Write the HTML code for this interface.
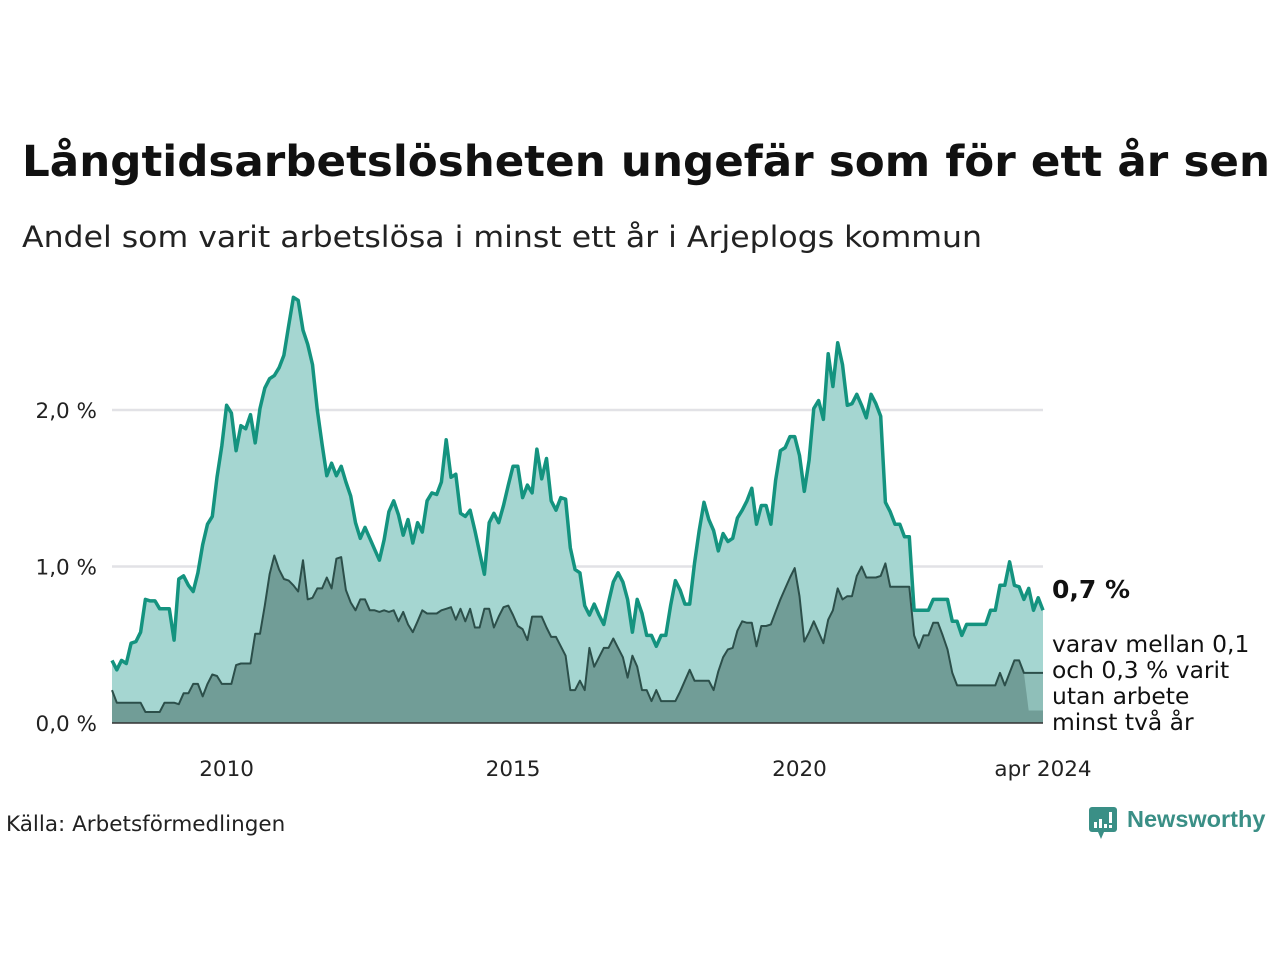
<!DOCTYPE html>
<html><head><meta charset="utf-8"><style>
body{margin:0;background:#fff;width:1280px;height:960px;overflow:hidden;font-family:"DejaVu Sans","Liberation Sans",sans-serif;}
svg{display:block}
</style></head><body>
<svg id="chart" width="1280" height="960" xmlns="http://www.w3.org/2000/svg">
<text x="22" y="176" font-family="DejaVu Sans, Liberation Sans, sans-serif" font-weight="bold" font-size="43" fill="#111" textLength="1248" lengthAdjust="spacingAndGlyphs">Långtidsarbetslösheten ungefär som för ett år sen</text>
<text x="22" y="247" font-size="29" fill="#222" textLength="960" lengthAdjust="spacingAndGlyphs">Andel som varit arbetslösa i minst ett år i Arjeplogs kommun</text>
<g id="grid"></g><g id="marks"></g><g id="axes"></g>
<text x="1052" y="598" font-size="25" font-weight="bold" fill="#111">0,7 %</text>
<g font-size="23.4" fill="#111">
<text x="1052" y="652">varav mellan 0,1</text>
<text x="1052" y="678">och 0,3 % varit</text>
<text x="1052" y="704">utan arbete</text>
<text x="1052" y="730">minst två år</text>
</g>
<text x="6" y="831" font-size="21.5" fill="#222">Källa: Arbetsförmedlingen</text>
<g>
<rect x="1089" y="807" width="28" height="25" rx="3" fill="#3a8f86"/>
<polygon points="1098,832 1104,832 1101,839" fill="#3a8f86"/>
<rect x="1094" y="822" width="3" height="6" fill="#fff"/><rect x="1099" y="819" width="3" height="9" fill="#fff"/><rect x="1104" y="824" width="3" height="4" fill="#fff"/><rect x="1109" y="812" width="3" height="11" fill="#fff"/><rect x="1109" y="825" width="3" height="3" fill="#fff"/>
<text x="1127" y="827" font-size="23.5" font-weight="bold" fill="#3a8f86" font-family="Liberation Sans, sans-serif">Newsworthy</text>
</g>
</svg>
<script>
const upperValues=[0.40,0.34,0.40,0.38,0.51,0.52,0.58,0.79,0.78,0.78,0.73,0.73,0.73,0.53,0.92,0.94,0.88,0.84,0.96,1.14,1.27,1.32,1.57,1.77,2.03,1.98,1.74,1.90,1.88,1.97,1.79,2.01,2.14,2.20,2.22,2.27,2.35,2.54,2.72,2.70,2.51,2.42,2.29,2.00,1.78,1.58,1.66,1.58,1.64,1.54,1.45,1.28,1.18,1.25,1.18,1.11,1.04,1.17,1.35,1.42,1.33,1.20,1.30,1.15,1.28,1.22,1.42,1.47,1.46,1.54,1.81,1.57,1.59,1.34,1.32,1.36,1.23,1.09,0.95,1.28,1.34,1.28,1.39,1.52,1.64,1.64,1.44,1.52,1.47,1.75,1.56,1.69,1.42,1.36,1.44,1.43,1.12,0.98,0.96,0.75,0.69,0.76,0.69,0.63,0.77,0.90,0.96,0.90,0.79,0.58,0.79,0.70,0.56,0.56,0.49,0.56,0.56,0.75,0.91,0.85,0.76,0.76,1.02,1.23,1.41,1.30,1.23,1.10,1.21,1.16,1.18,1.31,1.36,1.42,1.50,1.27,1.39,1.39,1.27,1.55,1.74,1.76,1.83,1.83,1.71,1.48,1.68,2.01,2.06,1.94,2.36,2.15,2.43,2.29,2.03,2.04,2.10,2.03,1.95,2.10,2.04,1.96,1.41,1.35,1.27,1.27,1.19,1.19,0.72,0.72,0.72,0.72,0.79,0.79,0.79,0.79,0.65,0.65,0.56,0.63,0.63,0.63,0.63,0.63,0.72,0.72,0.88,0.88,1.03,0.88,0.87,0.79,0.86,0.72,0.80,0.72];
const lowerValues=[0.21,0.13,0.13,0.13,0.13,0.13,0.13,0.07,0.07,0.07,0.07,0.13,0.13,0.13,0.12,0.19,0.19,0.25,0.25,0.17,0.25,0.31,0.30,0.25,0.25,0.25,0.37,0.38,0.38,0.38,0.57,0.57,0.75,0.95,1.07,0.98,0.92,0.91,0.88,0.84,1.04,0.79,0.80,0.86,0.86,0.93,0.86,1.05,1.06,0.85,0.77,0.72,0.79,0.79,0.72,0.72,0.71,0.72,0.71,0.72,0.65,0.71,0.63,0.58,0.65,0.72,0.70,0.70,0.70,0.72,0.73,0.74,0.66,0.73,0.65,0.73,0.61,0.61,0.73,0.73,0.61,0.68,0.74,0.75,0.69,0.62,0.60,0.53,0.68,0.68,0.68,0.61,0.55,0.55,0.49,0.43,0.21,0.21,0.27,0.21,0.48,0.36,0.42,0.48,0.48,0.54,0.48,0.42,0.29,0.43,0.36,0.21,0.21,0.14,0.21,0.14,0.14,0.14,0.14,0.20,0.27,0.34,0.27,0.27,0.27,0.27,0.21,0.33,0.42,0.47,0.48,0.59,0.65,0.64,0.64,0.49,0.62,0.62,0.63,0.71,0.79,0.86,0.93,0.99,0.81,0.52,0.58,0.65,0.58,0.51,0.66,0.72,0.86,0.79,0.81,0.81,0.94,1.00,0.93,0.93,0.93,0.94,1.02,0.87,0.87,0.87,0.87,0.87,0.56,0.48,0.56,0.56,0.64,0.64,0.56,0.47,0.32,0.24,0.24,0.24,0.24,0.24,0.24,0.24,0.24,0.24,0.32,0.24,0.32,0.40,0.40,0.32,0.32,0.32,0.32,0.32];
const bandLow=[0.08];
const yTicks=[0,1,2];
const yTickLabels=["0,0 %","1,0 %","2,0 %"];
const xTickYears=[2010,2015,2020];
const startYear=2008;
const NS="http://www.w3.org/2000/svg";
const X0=112,X1=1043,Y0=723,PPU=156.5;
const n=upperValues.length;
function xScale(i){return X0+(X1-X0)*i/(n-1);}
function xYear(y){return xScale((y-startYear)*12);}
function yScale(v){return Y0-v*PPU;}
function mk(tag,attrs,parent){const e=document.createElementNS(NS,tag);for(const k in attrs)e.setAttribute(k,attrs[k]);parent.appendChild(e);return e;}
const grid=document.getElementById('grid'),marks=document.getElementById('marks'),axes=document.getElementById('axes');
yTicks.forEach((t,k)=>{
  if(t>0){const g=mk('line',{x1:X0,x2:X1,y1:yScale(t),y2:yScale(t),stroke:'#e2e2e6','stroke-width':2.5},grid);
  
  }
  const l=mk('text',{x:97,y:yScale(t)+8,'text-anchor':'end','font-size':21.5,fill:'#222'},axes);
  l.textContent=yTickLabels[k];
  
  
});
xTickYears.forEach(y=>{
  const l=mk('text',{x:xYear(y),y:776,'text-anchor':'middle','font-size':21.5,fill:'#222'},axes);
  l.textContent=String(y);
  
  
});
const le=mk('text',{x:X1,y:776,'text-anchor':'middle','font-size':21.5,fill:'#222'},axes);
le.textContent='apr 2024';


function pts(arr){return arr.map((v,i)=>xScale(i).toFixed(1)+','+yScale(v).toFixed(1)).join(' ');}
const ua=mk('polygon',{points:X0+','+Y0+' '+pts(upperValues)+' '+X1+','+Y0,fill:'#a5d6d1'},marks);


const la=mk('polygon',{points:X0+','+Y0+' '+pts(lowerValues)+' '+X1+','+Y0,fill:'#719d97'},marks);


const bs=n-5;
let bp=[];
for(let i=bs;i<n;i++)bp.push(xScale(i)+','+yScale(lowerValues[i]));
bp.push(X1+','+yScale(bandLow[0]));bp.push(xScale(bs+1)+','+yScale(bandLow[0]));
const band=mk('polygon',{points:bp.join(' '),fill:'#8fbfb9'},marks);


const ll=mk('polyline',{points:pts(lowerValues),fill:'none',stroke:'#2c4f4a','stroke-width':2,'stroke-linejoin':'round'},marks);


const ul=mk('polyline',{points:pts(upperValues),fill:'none',stroke:'#14937f','stroke-width':3.5,'stroke-linejoin':'round'},marks);


const ax=mk('line',{x1:X0,x2:X1,y1:Y0,y2:Y0,stroke:'#333','stroke-width':1.5},marks);


</script>
</body></html>
